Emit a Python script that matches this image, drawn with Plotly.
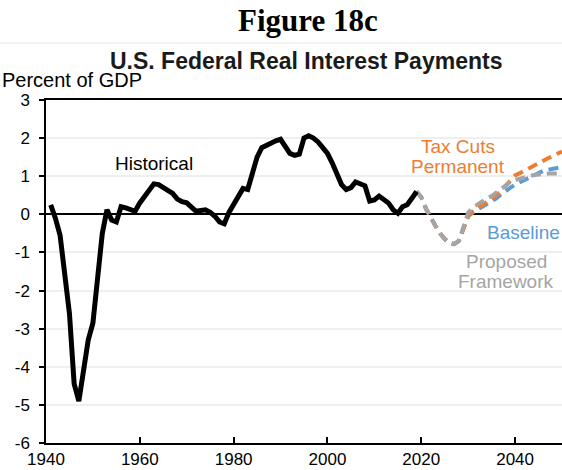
import plotly.graph_objects as go

# ---- Data ----
hist_years = list(range(1941, 2020))
hist_vals = [
    0.25, -0.1, -0.55, -1.7, -2.6, -4.45, -4.9, -4.1, -3.3, -2.85,   # 1941-1950
    -1.6, -0.5, 0.12, -0.15, -0.2, 0.2, 0.17, 0.12, 0.08, 0.3,       # 1951-1960
    0.45, 0.65, 0.8, 0.78, 0.7, 0.65, 0.55, 0.4, 0.33, 0.3,          # 1961-1970
    0.18, 0.08, 0.1, 0.12, 0.05, -0.05, -0.2, -0.25, 0.05, 0.28,     # 1971-1980
    0.45, 0.68, 0.65, 1.1, 1.5, 1.75, 1.82, 1.88, 1.93, 1.97,        # 1981-1990
    1.8, 1.6, 1.55, 1.58, 2.0, 2.06, 2.0, 1.9, 1.75, 1.6,            # 1991-2000
    1.35, 1.05, 0.78, 0.65, 0.7, 0.85, 0.8, 0.75, 0.35, 0.38,        # 2001-2010
    0.48, 0.38, 0.3, 0.12, 0.03, 0.2, 0.25, 0.42, 0.6,               # 2011-2019
]

proj_years = list(range(2019, 2051))
common_start = [0.6, 0.45, 0.15, -0.1, -0.3, -0.5, -0.65, -0.75, -0.78, -0.7, -0.35]  # 2019-2029
baseline_vals = common_start + [
    -0.05, 0.05, 0.12, 0.2, 0.27, 0.33, 0.42, 0.52, 0.62, 0.7, 0.78,   # 2030-2040
    0.84, 0.88, 0.95, 1.02, 1.08, 1.14, 1.17, 1.2, 1.22, 1.24,        # 2041-2050
]
taxcuts_vals = common_start + [
    -0.05, 0.08, 0.17, 0.25, 0.33, 0.4, 0.5, 0.6, 0.75, 0.9, 1.02,     # 2030-2040
    1.08, 1.15, 1.22, 1.28, 1.33, 1.4, 1.47, 1.53, 1.6, 1.65,         # 2041-2050
]
proposed_vals = common_start + [
    0.05, 0.18, 0.27, 0.35, 0.42, 0.48, 0.56, 0.66, 0.76, 0.85, 0.9,   # 2030-2040
    0.94, 0.97, 1.0, 1.03, 1.05, 1.07, 1.07, 1.07, 1.07, 1.07,        # 2041-2050
]

x_ticks = [1940, 1960, 1980, 2000, 2020, 2040]
x_tick_labels = ["1940", "1960", "1980", "2000", "2020", "2040"]
y_ticks = [3, 2, 1, 0, -1, -2, -3, -4, -5, -6]
y_tick_labels = ["3", "2", "1", "0", "-1", "-2", "-3", "-4", "-5", "-6"]

BLACK = "#000000"
ORANGE = "#ED7D31"
BLUE = "#5B9BD5"
GRAY = "#A5A5A5"
FONT = "Liberation Sans, Arial, sans-serif"

fig = go.Figure()
fig.add_trace(go.Scatter(x=proj_years, y=baseline_vals, mode="lines",
                         line=dict(color=BLUE, width=4, dash="10px,6px"), name="Baseline"))
fig.add_trace(go.Scatter(x=proj_years, y=taxcuts_vals, mode="lines",
                         line=dict(color=ORANGE, width=4, dash="10px,6px"), name="Tax Cuts Permanent"))
fig.add_trace(go.Scatter(x=proj_years, y=proposed_vals, mode="lines",
                         line=dict(color=GRAY, width=4, dash="10px,6px"), name="Proposed Framework"))
fig.add_trace(go.Scatter(x=hist_years, y=hist_vals, mode="lines",
                         line=dict(color=BLACK, width=5), name="Historical"))

ann = []
ann.append(dict(text="<b>Figure 18c</b>", xref="paper", yref="paper", x=0.508, y=1.233,
                xanchor="center", yanchor="middle", showarrow=False,
                font=dict(family="Liberation Serif, Times New Roman, serif", size=31, color="black")))
ann.append(dict(text="<b>U.S. Federal Real Interest Payments</b>", xref="paper", yref="paper",
                x=0.504, y=1.114, xanchor="center", yanchor="middle", showarrow=False,
                font=dict(family=FONT, size=23, color="#1a1a1a")))
ann.append(dict(text="Percent of GDP", xref="paper", yref="paper", x=-0.089, y=1.058,
                xanchor="left", yanchor="middle", showarrow=False,
                font=dict(family=FONT, size=20, color="black")))
ann.append(dict(text="Historical", x=1963.0, y=1.34, xanchor="center", yanchor="middle",
                showarrow=False, font=dict(family=FONT, size=19, color="black")))
ann.append(dict(text="Tax Cuts", x=2027.8, y=1.78, xanchor="center", yanchor="middle",
                showarrow=False, font=dict(family=FONT, size=19, color=ORANGE)))
ann.append(dict(text="Permanent", x=2027.8, y=1.26, xanchor="center", yanchor="middle",
                showarrow=False, font=dict(family=FONT, size=19, color=ORANGE)))
ann.append(dict(text="Baseline", x=2050, y=-0.47, xanchor="right", yanchor="middle",
                showarrow=False, font=dict(family=FONT, size=19, color=BLUE)))
ann.append(dict(text="Proposed", x=2038.1, y=-1.24, xanchor="center", yanchor="middle",
                showarrow=False, font=dict(family=FONT, size=19, color=GRAY)))
ann.append(dict(text="Framework", x=2038.1, y=-1.77, xanchor="center", yanchor="middle",
                showarrow=False, font=dict(family=FONT, size=19, color=GRAY)))

fig.update_layout(
    width=562, height=470,
    margin=dict(l=46, r=0, t=100, b=27, pad=0),
    paper_bgcolor="white", plot_bgcolor="white",
    showlegend=False,
    annotations=ann,
    shapes=[dict(type="line", xref="paper", yref="paper", x0=-0.1, x1=1.0, y0=1.166, y1=1.166,
                 line=dict(color="#E6E6E6", width=1))],
    font=dict(family=FONT, size=17, color="black"),
)
fig.update_xaxes(range=[1940, 2050], tickvals=x_ticks, ticktext=x_tick_labels,
                 ticks="inside", ticklen=6,
                 tickcolor="black", tickwidth=1.5, showline=True, linecolor="black", linewidth=1.5,
                 mirror=True, showgrid=False, zeroline=False,
                 tickfont=dict(family=FONT, size=17, color="black"))
fig.update_yaxes(range=[-6, 3], tickvals=y_ticks, ticktext=y_tick_labels,
                 ticks="outside", ticklen=5,
                 tickcolor="black", tickwidth=1.5, showline=True, linecolor="black", linewidth=1.5,
                 showgrid=True, gridcolor="#EFEFEF", gridwidth=1.5,
                 zeroline=True, zerolinecolor="black", zerolinewidth=1.5,
                 ticklabelstandoff=6,
                 tickfont=dict(family=FONT, size=17, color="black"))

fig.write_html("out.html",
               config={"displayModeBar": False},
               post_script="document.body.style.margin='0';document.body.style.padding='0';"
                           "document.body.style.overflow='hidden';")
